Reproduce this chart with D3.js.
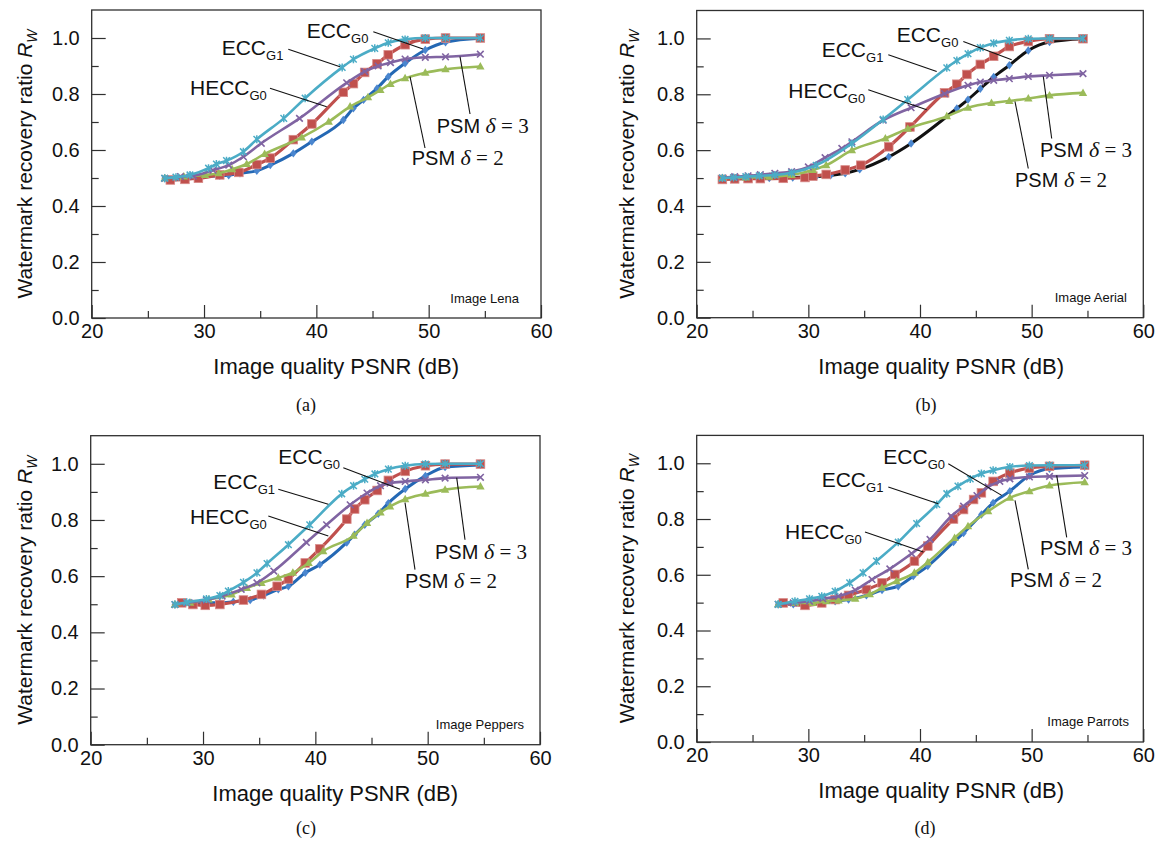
<!DOCTYPE html>
<html><head><meta charset="utf-8">
<script src="https://cdn.jsdelivr.net/npm/d3@7"></script>
<style>body{margin:0;background:#fff}</style>
</head><body><svg id="chart" width="1163" height="841"></svg>
<script>
// ---------- DATA (PSNR dB, recovery ratio) ----------
const xTicks = [20, 30, 40, 50, 60];
const xMinorTicks = [25, 35, 45, 55];
const yTicks = [0, 0.2, 0.4, 0.6, 0.8, 1.0];
const yMinorTicks = [0.1, 0.3, 0.5, 0.7, 0.9];
const panelCaptions = ["(a)", "(b)", "(c)", "(d)"];
const imageNames = ["Image Lena", "Image Aerial", "Image Peppers", "Image Parrots"];

// (a) Lena
const lenaEccG0 = [[26.5,0.499],[28.5,0.503],[31.4,0.508],[32.2,0.51],[33.2,0.517],[34.7,0.526],[35.9,0.546],[37.95,0.588],[39.6,0.63],[42.4,0.707],[43.3,0.749],[44.2,0.779],[45.4,0.82],[46.4,0.862],[47.9,0.91],[49.7,0.957],[51.5,0.985],[54.6,0.999]];
const lenaEccG1 = [[26.5,0.499],[27.5,0.503],[28.75,0.511],[30.4,0.535],[31.1,0.55],[32.0,0.562],[33.5,0.594],[34.7,0.638],[37.1,0.713],[39.0,0.785],[42.3,0.895],[43.3,0.924],[45.2,0.963],[46.4,0.983],[47.9,0.995],[49.7,1.0],[51.5,1.0],[54.6,1.0]];
const lenaHeccG0 = [[27.0,0.493],[28.3,0.495],[29.5,0.499],[31.4,0.511],[33.1,0.52],[34.7,0.548],[35.9,0.571],[37.95,0.637],[39.6,0.693],[42.4,0.806],[43.3,0.837],[44.3,0.877],[45.4,0.908],[46.4,0.94],[47.9,0.976],[49.7,0.996],[51.5,1.0],[54.6,1.0]];
const lenaPsm3 = [[26.5,0.499],[27.9,0.505],[29.05,0.508],[30.8,0.528],[32.2,0.546],[33.5,0.576],[35.1,0.624],[38.5,0.713],[42.7,0.84],[44.3,0.88],[45.5,0.9],[46.6,0.912],[47.9,0.925],[49.7,0.931],[51.5,0.933],[54.6,0.942]];
const lenaPsm2 = [[26.5,0.499],[28.2,0.505],[30.1,0.511],[31.3,0.517],[32.5,0.531],[33.8,0.55],[35.4,0.586],[38.7,0.645],[41.1,0.701],[43.0,0.755],[44.6,0.788],[45.7,0.814],[46.6,0.836],[47.9,0.856],[49.7,0.876],[51.5,0.888],[54.6,0.898]];

// (b) Aerial
const aerialEccG0 = [[22.3,0.497],[24.4,0.498],[26.5,0.5],[28.6,0.502],[30.7,0.505],[32.0,0.51],[33.3,0.517],[34.6,0.531],[37.2,0.576],[39.2,0.624],[43.3,0.749],[44.3,0.781],[45.4,0.82],[46.6,0.862],[48.0,0.904],[49.7,0.957],[51.6,0.987],[54.6,0.999]];
const aerialEccG1 = [[22.3,0.5],[23.3,0.502],[24.4,0.505],[25.6,0.508],[27.0,0.511],[28.5,0.519],[30.7,0.546],[33.9,0.624],[36.7,0.71],[38.9,0.781],[42.4,0.895],[43.3,0.921],[44.3,0.945],[45.4,0.967],[46.6,0.983],[48.0,0.993],[49.7,0.999],[51.6,1.0],[54.6,1.0]];
const aerialHeccG0 = [[22.3,0.495],[23.4,0.497],[24.6,0.498],[25.7,0.498],[27.75,0.499],[29.7,0.502],[30.4,0.507],[31.6,0.513],[33.3,0.529],[34.7,0.546],[37.2,0.612],[39.1,0.683],[42.2,0.805],[43.3,0.836],[44.2,0.871],[45.4,0.907],[46.6,0.936],[48.0,0.971],[49.7,0.989],[51.6,0.999],[54.6,0.999]];
const aerialPsm3 = [[22.3,0.5],[23.4,0.505],[24.6,0.508],[25.7,0.512],[27.0,0.517],[28.5,0.523],[30.0,0.54],[31.5,0.573],[33.0,0.606],[33.9,0.63],[36.7,0.707],[39.2,0.752],[42.2,0.802],[44.3,0.832],[45.4,0.844],[46.6,0.85],[48.0,0.856],[49.7,0.864],[51.6,0.868],[54.6,0.874]];
const aerialPsm2 = [[22.3,0.5],[24.4,0.502],[26.5,0.505],[28.5,0.511],[30.4,0.529],[31.6,0.546],[33.9,0.6],[36.9,0.642],[38.9,0.677],[42.4,0.721],[44.3,0.752],[46.4,0.769],[48.0,0.776],[49.7,0.785],[51.6,0.796],[54.6,0.805]];

// (c) Peppers
const peppersEccG0 = [[27.5,0.499],[29.0,0.505],[30.3,0.505],[31.5,0.505],[32.7,0.509],[34.2,0.515],[35.4,0.531],[36.7,0.553],[37.6,0.564],[39.1,0.612],[40.4,0.641],[42.8,0.72],[43.5,0.748],[44.4,0.783],[45.6,0.822],[46.5,0.86],[48.0,0.91],[49.8,0.957],[51.55,0.988],[54.7,0.996]];
const peppersEccG1 = [[27.5,0.499],[28.55,0.507],[30.3,0.519],[31.5,0.531],[32.25,0.547],[33.6,0.578],[34.8,0.612],[35.7,0.645],[37.6,0.712],[39.5,0.783],[42.35,0.893],[43.4,0.922],[44.4,0.945],[45.3,0.964],[46.5,0.981],[48.0,0.993],[49.8,0.999],[51.55,1.0],[54.7,1.0]];
const peppersHeccG0 = [[28.1,0.505],[29.1,0.499],[30.2,0.496],[31.5,0.499],[33.6,0.515],[35.2,0.535],[36.6,0.564],[37.6,0.59],[39.1,0.647],[40.4,0.697],[42.8,0.803],[43.5,0.839],[44.4,0.872],[45.5,0.905],[46.5,0.941],[48.0,0.973],[49.8,0.993],[51.55,0.999],[54.7,0.999]];
const peppersPsm3 = [[27.5,0.499],[28.55,0.505],[30.3,0.515],[31.7,0.529],[33.4,0.553],[34.8,0.576],[36.3,0.618],[39.2,0.72],[41.0,0.783],[43.1,0.854],[44.6,0.896],[45.8,0.922],[46.65,0.931],[48.0,0.937],[49.8,0.943],[51.55,0.949],[54.7,0.952]];
const peppersPsm2 = [[27.5,0.499],[28.85,0.505],[30.5,0.517],[32.55,0.535],[33.9,0.558],[35.2,0.576],[36.7,0.594],[38.0,0.612],[39.4,0.647],[40.7,0.689],[43.4,0.744],[44.6,0.789],[45.8,0.827],[46.65,0.848],[48.0,0.874],[49.8,0.893],[51.55,0.908],[54.7,0.919]];

// (d) Parrots
const parrotsEccG0 = [[27.3,0.494],[28.65,0.494],[30.1,0.499],[31.2,0.499],[32.4,0.505],[33.6,0.511],[35.2,0.526],[36.6,0.545],[38.05,0.559],[39.4,0.595],[40.7,0.631],[43.0,0.717],[43.9,0.75],[45.5,0.816],[46.55,0.858],[48.05,0.9],[49.8,0.956],[51.6,0.98],[54.75,0.987]];
const parrotsEccG1 = [[27.3,0.494],[28.8,0.505],[30.1,0.514],[31.2,0.523],[32.4,0.541],[33.7,0.571],[34.9,0.607],[36.1,0.649],[38.05,0.717],[39.7,0.784],[41.5,0.852],[42.4,0.891],[43.4,0.918],[44.5,0.944],[45.5,0.963],[46.55,0.975],[48.05,0.987],[49.8,0.992],[51.6,0.993],[54.75,0.993]];
const parrotsHeccG0 = [[27.75,0.499],[29.7,0.49],[31.2,0.499],[32.4,0.511],[33.6,0.526],[35.2,0.547],[36.6,0.571],[37.75,0.601],[39.5,0.649],[40.7,0.703],[43.0,0.8],[43.9,0.834],[44.8,0.87],[45.5,0.894],[46.55,0.935],[48.05,0.965],[49.8,0.983],[51.6,0.989],[54.75,0.993]];
const parrotsPsm3 = [[27.3,0.494],[28.65,0.499],[30.1,0.505],[31.3,0.514],[32.7,0.523],[34.2,0.545],[35.7,0.583],[37.3,0.621],[39.25,0.676],[40.9,0.727],[42.8,0.81],[43.9,0.846],[45.1,0.884],[46.1,0.915],[47.15,0.935],[48.05,0.944],[49.8,0.951],[51.6,0.953],[54.75,0.956]];
const parrotsPsm2 = [[27.3,0.494],[28.8,0.499],[30.4,0.499],[31.6,0.505],[32.7,0.508],[34.2,0.514],[35.5,0.53],[36.6,0.553],[37.9,0.577],[39.5,0.607],[40.7,0.645],[43.1,0.732],[44.3,0.774],[46.1,0.828],[48.05,0.876],[49.8,0.9],[51.6,0.92],[54.75,0.932]];

const panelData = [
  {eccG0: lenaEccG0, heccG0: lenaHeccG0, psm2: lenaPsm2, psm3: lenaPsm3, eccG1: lenaEccG1},
  {eccG0: aerialEccG0, heccG0: aerialHeccG0, psm2: aerialPsm2, psm3: aerialPsm3, eccG1: aerialEccG1},
  {eccG0: peppersEccG0, heccG0: peppersHeccG0, psm2: peppersPsm2, psm3: peppersPsm3, eccG1: peppersEccG1},
  {eccG0: parrotsEccG0, heccG0: parrotsHeccG0, psm2: parrotsPsm2, psm3: parrotsPsm3, eccG1: parrotsEccG1}
];

// ---------- LAYOUT / STYLE ----------
const panels = [
  {left: 91.7, top: 10, width: 449.3, height: 308, titleX: 32, capX: 306, capY: 411, imgX: 519},
  {left: 696.7, top: 10.5, width: 446.6, height: 307.2, titleX: 634, capX: 926, capY: 411, imgX: 1127},
  {left: 90.7, top: 435.7, width: 449.3, height: 309, titleX: 32, capX: 306, capY: 834, imgX: 524},
  {left: 696.7, top: 435.4, width: 446.6, height: 306.6, titleX: 634, capX: 925, capY: 834, imgX: 1129}
];

// annotation layout (panel-local pixels)
const annotations = [
  [
    {kind:"sub", main:"ECC", sub:"G0", x:215, y:28, line:[281.6,21.7,331.3,39]},
    {kind:"sub", main:"ECC", sub:"G1", x:130, y:45, line:[196.6,39.3,248.3,56.7]},
    {kind:"sub", main:"HECC", sub:"G0", x:98.3, y:85, line:[178.3,78.3,235,96.7]},
    {kind:"psm", n:"3", x:345, y:123.3, line:[378.3,104,368.3,46.7]},
    {kind:"psm", n:"2", x:320, y:155, line:[333.3,138,318.3,66.7]}
  ],
  [
    {kind:"sub", main:"ECC", sub:"G0", x:200, y:31, line:[266.6,31,315,49.3]},
    {kind:"sub", main:"ECC", sub:"G1", x:125, y:46, line:[191.6,44.3,240,61]},
    {kind:"sub", main:"HECC", sub:"G0", x:91.6, y:87.6, line:[171.6,79.3,230,99.3]},
    {kind:"psm", n:"3", x:343.3, y:146, line:[355,128,346.6,66]},
    {kind:"psm", n:"2", x:318.3, y:176, line:[331.6,158,318.3,91]}
  ],
  [
    {kind:"sub", main:"ECC", sub:"G0", x:187.6, y:28.6, line:[252.6,32,309.3,53.6]},
    {kind:"sub", main:"ECC", sub:"G1", x:122.6, y:53.6, line:[187.6,53.6,237.6,68.6]},
    {kind:"sub", main:"HECC", sub:"G0", x:99.3, y:88.6, line:[177.6,80.3,237.6,100.3]},
    {kind:"psm", n:"3", x:344.3, y:123.6, line:[374.3,104,366,42]},
    {kind:"psm", n:"2", x:314.3, y:152, line:[324.3,134,314.3,67]}
  ],
  [
    {kind:"sub", main:"ECC", sub:"G0", x:186.6, y:28.3, line:[251.6,28.3,305,60]},
    {kind:"sub", main:"ECC", sub:"G1", x:125, y:51.7, line:[191.6,51.7,241.6,68.3]},
    {kind:"sub", main:"HECC", sub:"G0", x:88.3, y:103.3, line:[168.3,96.7,226.6,116.7]},
    {kind:"psm", n:"3", x:343.3, y:120, line:[370,102,360,40]},
    {kind:"psm", n:"2", x:313.3, y:151.7, line:[331.6,134,318.3,65]}
  ]
];

const SANS = "'Liberation Sans', Arial, Helvetica, sans-serif";
const SERIF = "'Liberation Serif', 'Times New Roman', serif";

const seriesStyle = {
  eccG0:  {color:"#2468B4", marker:"diamond", mColor:"#4A86CF", width:3},
  heccG0: {color:"#C0504D", marker:"square", mColor:"#C0504D", width:3.2},
  psm2:   {color:"#9BBB59", marker:"triangle", mColor:"#9BBB59", width:2.6},
  psm3:   {color:"#8064A2", marker:"x", mColor:"#8064A2", width:2.6},
  eccG1:  {color:"#4BACC6", marker:"star", mColor:"#4BACC6", width:2.6}
};
const drawOrder = ["eccG0", "heccG0", "psm2", "psm3", "eccG1"];

const svg = d3.select("#chart").style("font-family", SANS);

function drawMarker(g, type, color, x, y) {
  if (type === "diamond") {
    g.append("path").attr("d", "M0,-4.2L3.3,0L0,4.2L-3.3,0Z").attr("transform", `translate(${x},${y})`).attr("fill", color);
  } else if (type === "square") {
    g.append("rect").attr("x", x - 4.3).attr("y", y - 4.3).attr("width", 8.6).attr("height", 8.6)
      .attr("fill", color).attr("stroke", "#D88A88").attr("stroke-width", 0.8);
  } else if (type === "triangle") {
    g.append("path").attr("d", "M0,-4.5L4.2,3L-4.2,3Z").attr("transform", `translate(${x},${y})`).attr("fill", color);
  } else if (type === "x") {
    g.append("path").attr("d", "M-3.3,-3.3L3.3,3.3M-3.3,3.3L3.3,-3.3").attr("transform", `translate(${x},${y})`)
      .attr("stroke", color).attr("stroke-width", 1.6).attr("fill", "none");
  } else if (type === "star") {
    g.append("path").attr("d", "M-3.3,-3.3L3.3,3.3M-3.3,3.3L3.3,-3.3M0,-4L0,4").attr("transform", `translate(${x},${y})`)
      .attr("stroke", color).attr("stroke-width", 1.5).attr("fill", "none");
  }
}

panels.forEach((p, i) => {
  const g = svg.append("g").attr("transform", `translate(${p.left},${p.top})`);
  const x = d3.scaleLinear().domain([20, 60]).range([0, p.width]);
  const y = d3.scaleLinear().domain([0, 1.1]).range([p.height, 0]);

  // frame
  g.append("rect").attr("x", 0).attr("y", 0).attr("width", p.width).attr("height", p.height)
    .attr("fill", "none").attr("stroke", "#303030").attr("stroke-width", 1.3);

  // axes (ticks inward)
  g.append("g").attr("transform", `translate(0,${p.height})`)
    .call(d3.axisBottom(x).tickValues(xTicks).tickSize(-13).tickPadding(6).tickFormat(d3.format("d")));
  g.append("g").attr("transform", `translate(0,${p.height})`)
    .call(d3.axisBottom(x).tickValues(xMinorTicks).tickSize(-7).tickFormat(""));
  g.append("g")
    .call(d3.axisLeft(y).tickValues(yTicks).tickSize(-14).tickPadding(12).tickFormat(d3.format(".1f")));
  g.append("g").call(d3.axisLeft(y).tickValues(yMinorTicks).tickSize(-7).tickFormat(""));
  g.selectAll(".domain").remove();
  g.selectAll(".tick line").attr("stroke", "#303030").attr("stroke-width", 1.2);
  g.selectAll(".tick text").attr("font-family", SANS).attr("font-size", 20).attr("fill", "#111");

  // series
  const line = d3.line().x(d => x(d[0])).y(d => y(d[1])).curve(d3.curveMonotoneX);
  drawOrder.forEach(key => {
    const st = seriesStyle[key];
    const data = panelData[i][key];
    const lineColor = (i === 1 && key === "eccG0") ? "#111" : st.color;
    g.append("path").datum(data).attr("d", line).attr("fill", "none")
      .attr("stroke", lineColor).attr("stroke-width", st.width).attr("stroke-linejoin", "round");
    const mg = g.append("g");
    data.forEach(d => drawMarker(mg, st.marker, st.mColor, x(d[0]), y(d[1])));
  });

  // annotations
  annotations[i].forEach(a => {
    g.append("line").attr("x1", a.line[0]).attr("y1", a.line[1]).attr("x2", a.line[2]).attr("y2", a.line[3])
      .attr("stroke", "#111").attr("stroke-width", 1.1);
    const t = g.append("text").attr("x", a.x).attr("y", a.y).attr("fill", "#111");
    if (a.kind === "sub") {
      t.attr("font-family", SANS).attr("font-size", 21);
      t.append("tspan").text(a.main);
      t.append("tspan").attr("font-size", 13).attr("dy", 5).text(a.sub);
    } else {
      t.attr("font-family", SANS).attr("font-size", 20);
      t.append("tspan").text("PSM ");
      t.append("tspan").attr("font-family", SERIF).attr("font-style", "italic").attr("font-size", 22).text("δ");
      t.append("tspan").attr("font-family", SERIF).attr("font-size", 21).text(" = " + a.n);
    }
  });

  // image name
  g.append("text").attr("x", p.imgX - p.left).attr("y", p.height - 15.5).attr("text-anchor", "end")
    .attr("font-size", 13).attr("fill", "#111").text(imageNames[i]);

  // x title
  svg.append("text").attr("x", p.left + 244.5).attr("y", p.top + p.height + 56)
    .attr("text-anchor", "middle").attr("font-size", 22).attr("fill", "#111").text("Image quality PSNR (dB)");

  // y title
  const yt = svg.append("text").attr("transform", `translate(${p.titleX},${p.top + p.height / 2}) rotate(-90)`)
    .attr("text-anchor", "middle").attr("font-size", 21).attr("fill", "#111");
  yt.append("tspan").text("Watermark recovery ratio ");
  yt.append("tspan").attr("font-style", "italic").text("R");
  yt.append("tspan").attr("font-style", "italic").attr("font-size", 14).attr("dy", 5).text("W");

  // caption
  svg.append("text").attr("x", p.capX).attr("y", p.capY).attr("text-anchor", "middle")
    .attr("font-family", SERIF).attr("font-size", 18).attr("fill", "#111").text(panelCaptions[i]);
});
</script>
</body></html>
